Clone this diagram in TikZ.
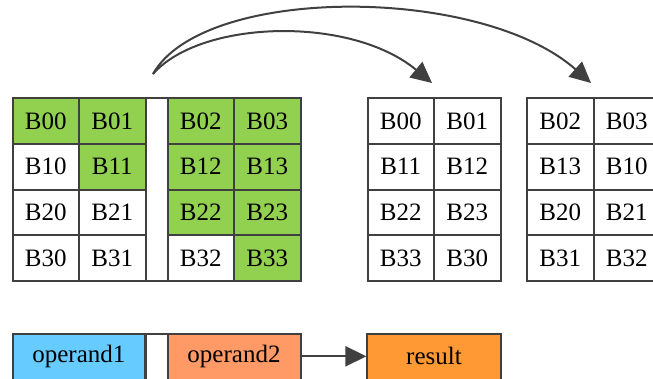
\documentclass[tikz,border=0pt]{standalone}
\usepackage{fontspec}
\setmainfont{Liberation Serif}
\usetikzlibrary{arrows.meta}
\definecolor{edge}{HTML}{404040}
\definecolor{hit}{HTML}{92D050}
\definecolor{opone}{HTML}{66CCFF}
\definecolor{optwo}{HTML}{FF9966}
\definecolor{res}{HTML}{FF9933}
\begin{document}
\begin{tikzpicture}[x=1pt,y=-1pt,
  cell/.style={draw=edge, line width=2pt, rectangle, inner sep=0pt,
    minimum width=66.5pt, minimum height=45.6pt, fill=white,
    font=\fontsize{25}{30}\selectfont},
  on/.style={cell, fill=hit},
  gapcol/.style={draw=edge, line width=2pt, rectangle, inner sep=0pt,
    minimum width=22pt, fill=white},
  arr/.style={draw=edge, line width=2pt,
    -{Triangle[length=21pt,width=20pt]}}]
\useasboundingbox (0,0) rectangle (653,378);
\clip (0,0) rectangle (653,378);

% source matrix, left half
\node[on]   (s00) at (45.75,121.1) {B00};
\node[on]   (s01) at (112.25,121.1) {B01};
\node[cell] (s10) at (45.75,166.7) {B10};
\node[on]   (s11) at (112.25,166.7) {B11};
\node[cell] (s20) at (45.75,212.3) {B20};
\node[cell] (s21) at (112.25,212.3) {B21};
\node[cell] (s30) at (45.75,257.9) {B30};
\node[cell] (s31) at (112.25,257.9) {B31};
% separator column
\node[gapcol, minimum height=182.4pt] (sgap) at (156.5,189.5) {};
% source matrix, right half
\node[on]   (s02) at (200.75,121.1) {B02};
\node[on]   (s03) at (267.25,121.1) {B03};
\node[on]   (s12) at (200.75,166.7) {B12};
\node[on]   (s13) at (267.25,166.7) {B13};
\node[on]   (s22) at (200.75,212.3) {B22};
\node[on]   (s23) at (267.25,212.3) {B23};
\node[cell] (s32) at (200.75,257.9) {B32};
\node[on]   (s33) at (267.25,257.9) {B33};

% first result matrix
\node[cell] (m00) at (400.75,121.1) {B00};
\node[cell] (m01) at (467.25,121.1) {B01};
\node[cell] (m10) at (400.75,166.7) {B11};
\node[cell] (m11) at (467.25,166.7) {B12};
\node[cell] (m20) at (400.75,212.3) {B22};
\node[cell] (m21) at (467.25,212.3) {B23};
\node[cell] (m30) at (400.75,257.9) {B33};
\node[cell] (m31) at (467.25,257.9) {B30};

% second result matrix
\node[cell] (r00) at (560.25,121.1) {B02};
\node[cell] (r01) at (626.75,121.1) {B03};
\node[cell] (r10) at (560.25,166.7) {B13};
\node[cell] (r11) at (626.75,166.7) {B10};
\node[cell] (r20) at (560.25,212.3) {B20};
\node[cell] (r21) at (626.75,212.3) {B21};
\node[cell] (r30) at (560.25,257.9) {B31};
\node[cell] (r31) at (626.75,257.9) {B32};

% curved arrows from the source to both results
\coordinate (src) at (153,74);
\coordinate (t1) at (432,83);
\coordinate (t2) at (591,83);
\draw[arr] (src) .. controls (200,20) and (350,15) .. (t1);
\draw[arr] (src) .. controls (203,-15) and (480,-15) .. (t2);

% legend
\begin{scope}[every node/.append style={minimum height=47.5pt}]
\node[cell, fill=opone, minimum width=132.7pt] (op1) at (78.9,357.25) {};
\node[gapcol] (lgap) at (156.5,357.25) {};
\node[cell, fill=optwo, minimum width=133pt] (op2) at (234,357.25) {};
\node[cell, fill=res, minimum width=133.2pt] (res) at (434,357.25) {};
\end{scope}
\node[font=\fontsize{25}{30}\selectfont] (op1t) at (78.9,356.3) {operand1};
\node[font=\fontsize{25}{30}\selectfont] (op2t) at (234,356.3) {operand2};
\node[font=\fontsize{25}{30}\selectfont] (rest) at (434,356.3) {result};
\draw[arr] (op2.east |- op2t) -- (res.west |- rest);
\end{tikzpicture}
\end{document}
